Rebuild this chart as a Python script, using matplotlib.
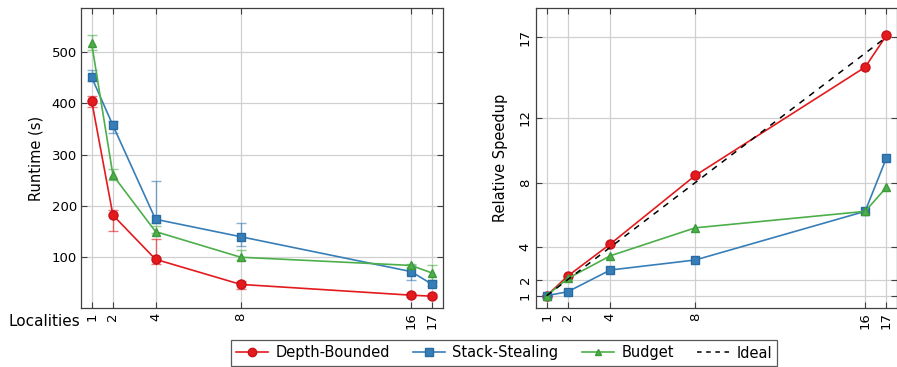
import matplotlib
matplotlib.use("Agg")
import matplotlib.pyplot as plt
from matplotlib.lines import Line2D

localities = [1, 2, 4, 8, 16, 17]

rt_depth = [405, 182, 96, 47, 26, 24]
rt_depth_lo = [392, 152, 87, 38, 22, 20]
rt_depth_hi = [415, 192, 135, 54, 30, 28]

rt_stack = [451, 357, 174, 140, 72, 47]
rt_stack_lo = [443, 343, 166, 121, 56, 43]
rt_stack_hi = [466, 365, 249, 166, 85, 52]

rt_budget = [517, 260, 150, 100, 84, 69]
rt_budget_lo = [504, 251, 147, 95, 80, 56]
rt_budget_hi = [533, 273, 160, 114, 87, 84]

sp_depth = [1, 2.22, 4.2, 8.44, 15.14, 17.1]
sp_stack = [1, 1.25, 2.59, 3.21, 6.22, 9.52]
sp_budget = [1, 2.07, 3.47, 5.2, 6.22, 7.7]
sp_ideal = [1, 2, 4, 8, 16, 17]

left_yticks = [100, 200, 300, 400, 500]
right_yticks = [1, 2, 4, 8, 12, 17]

RED = "#e41a1c"
BLUE = "#377eb8"
GREEN = "#4daf4a"

plt.rcParams['font.family'] = ['DejaVu Sans']
plt.rcParams['font.size'] = 9.5

fig = plt.figure(figsize=(8.97, 3.67), dpi=100)
axL = fig.add_axes([81/897, 59/367, 362/897, 300/367])
axR = fig.add_axes([536/897, 59/367, 361/897, 300/367])

series = [
    ("Depth-Bounded", RED, "o", "#c8101a", rt_depth, rt_depth_lo, rt_depth_hi, sp_depth, 6.5),
    ("Stack-Stealing", BLUE, "s", "#2a6aa3", rt_stack, rt_stack_lo, rt_stack_hi, sp_stack, 6.3),
    ("Budget", GREEN, "^", "#3c9a3a", rt_budget, rt_budget_lo, rt_budget_hi, sp_budget, 5.5),
]

for name, c, m, ec, y, lo, hi, sp, ms in series:
    yerr = [[v - l for v, l in zip(y, lo)], [h - v for v, h in zip(y, hi)]]
    axL.errorbar(localities, y, yerr=yerr, fmt='none', ecolor=c, elinewidth=1.0,
                 capsize=3.5, capthick=1.0, alpha=0.6, zorder=3)
    axL.plot(localities, y, color=c, marker=m, markersize=ms, markerfacecolor=c,
             markeredgecolor=ec, lw=1.2, zorder=4)
    axR.plot(localities, sp, color=c, marker=m, markersize=ms, markerfacecolor=c,
             markeredgecolor=ec, lw=1.2, zorder=4)

axR.plot(localities, sp_ideal, color="black", ls=(0, (4, 4)), lw=1.1, zorder=5)

for ax in (axL, axR):
    ax.set_xlim(0.5, 17.5)
    ax.set_xticks(localities)
    ax.set_xticklabels([str(v) for v in localities], rotation=90)
    ax.grid(True, color="#d0d0d0", lw=0.9)
    ax.set_axisbelow(True)
    for s in ax.spines.values():
        s.set_color("#404040")
        s.set_linewidth(0.9)
    ax.tick_params(direction='in', length=4, color="#404040", top=True, right=True,
                   labeltop=False, labelright=False, pad=3)

axL.set_ylim(1, 586)
axL.set_yticks(left_yticks)
axL.set_ylabel("Runtime (s)", fontsize=10.5, labelpad=6)

axR.set_ylim(0.24, 18.8)
axR.set_yticks(right_yticks)
axR.set_yticklabels([str(v) for v in right_yticks], rotation=90, va='center')
axR.set_ylabel("Relative Speedup", fontsize=10.5, labelpad=8)

fig.text(80/897, 1 - 321/367, "Localities", ha='right', va='center', fontsize=11)

handles = [
    Line2D([], [], color=RED, marker='o', markeredgecolor="#c8101a", lw=1.2, markersize=6),
    Line2D([], [], color=BLUE, marker='s', markeredgecolor="#2a6aa3", lw=1.2, markersize=5.5),
    Line2D([], [], color=GREEN, marker='^', markeredgecolor="#3c9a3a", lw=1.2, markersize=5),
    Line2D([], [], color="black", ls=(0, (3, 3)), lw=1.1),
]
leg = fig.legend(handles, ["Depth-Bounded", "Stack-Stealing", "Budget", "Ideal"],
                 loc='center', bbox_to_anchor=(504/897, 1 - 353/367), ncol=4,
                 frameon=True, fancybox=False, edgecolor="#303030", fontsize=10.5,
                 handlelength=2.2, columnspacing=1.6, handletextpad=0.5,
                 borderpad=0.35)
leg.get_frame().set_linewidth(0.9)

fig.savefig("out.png", dpi=100)
